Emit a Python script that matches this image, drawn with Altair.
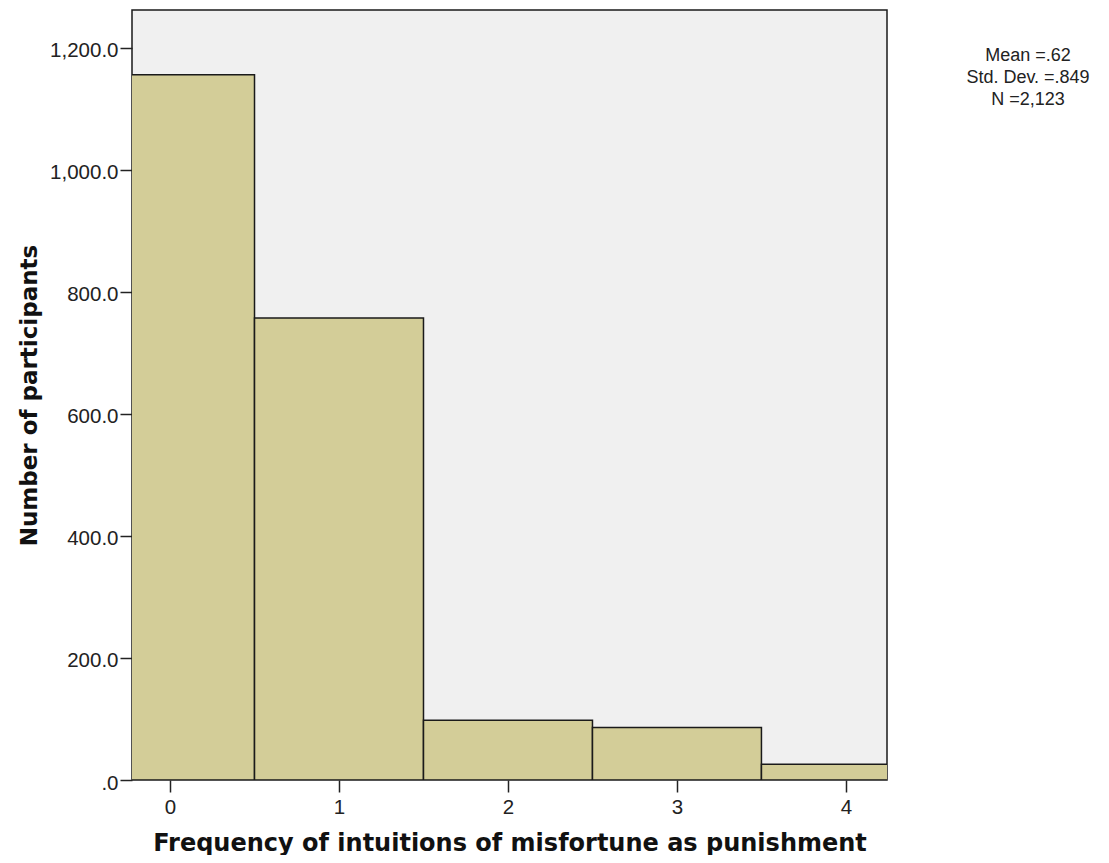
import altair as alt
import pandas as pd

categories = [0, 1, 2, 3, 4]
counts = [1156, 757, 98, 86, 26]
stats_lines = ["Mean =.62", "Std. Dev. =.849", "N =2,123"]
stats_rows = [0, 1, 2]

df = pd.DataFrame({
    "cat": categories,
    "lo": [c - 0.5 for c in categories],
    "hi": [c + 0.5 for c in categories],
    "count": counts,
})

xscale = alt.Scale(domain=[-0.225, 4.243], nice=False, zero=False)
yscale = alt.Scale(domain=[0, 1262], nice=False)

LABEL_FONT = "Liberation Sans"
TITLE_FONT = "DejaVu Sans"

bars = alt.Chart(df).mark_rect(
    fill="#d3cd98", stroke="#1a1a1a", strokeWidth=1.5, clip=True
).encode(
    x=alt.X("lo:Q", scale=xscale, axis=alt.Axis(
        values=categories, title="Frequency of intuitions of misfortune as punishment",
        format="d", grid=False, domain=False, tickSize=12, tickColor="#222",
        tickWidth=1.5, labelFontSize=20.5, labelFont=LABEL_FONT, labelColor="#222",
        labelPadding=5.5, titleFont=TITLE_FONT, titleFontSize=24, titleFontWeight="bold",
        titleColor="#111", titlePadding=13)),
    x2="hi:Q",
    y=alt.Y("count:Q", scale=yscale, axis=alt.Axis(
        values=[0, 200, 400, 600, 800, 1000, 1200], title="Number of participants",
        labelExpr="datum.value == 0 ? '.0' : format(datum.value, ',.1f')",
        grid=False, domain=False, tickSize=12, tickColor="#222", tickWidth=1.5,
        labelFontSize=20.5, labelFont=LABEL_FONT, labelColor="#222",
        labelPadding=2, labelOffset=3, titleFont=TITLE_FONT, titleFontSize=23,
        titleFontWeight="bold", titleColor="#111", titlePadding=8)),
    y2=alt.datum(0),
)

stats = alt.Chart(pd.DataFrame({"t": stats_lines, "row": stats_rows})).mark_text(
    font=LABEL_FONT, fontSize=18, color="#222", align="center", baseline="middle"
).encode(
    text="t:N",
    x=alt.value(896),
    y=alt.Y("row:Q", axis=None, scale=alt.Scale(domain=[0, 2], range=[46, 90])),
)

chart = alt.layer(bars, stats).resolve_scale(y="independent").properties(
    width=755, height=770,
    autosize=alt.AutoSizeParams(type="none"),
    padding={"left": 124, "top": 2, "right": 214, "bottom": 75},
).configure_view(fill="#f0f0f0", stroke="#1a1a1a", strokeWidth=1.5)

chart.save("out.html", embed_options={"renderer": "svg", "actions": False})
